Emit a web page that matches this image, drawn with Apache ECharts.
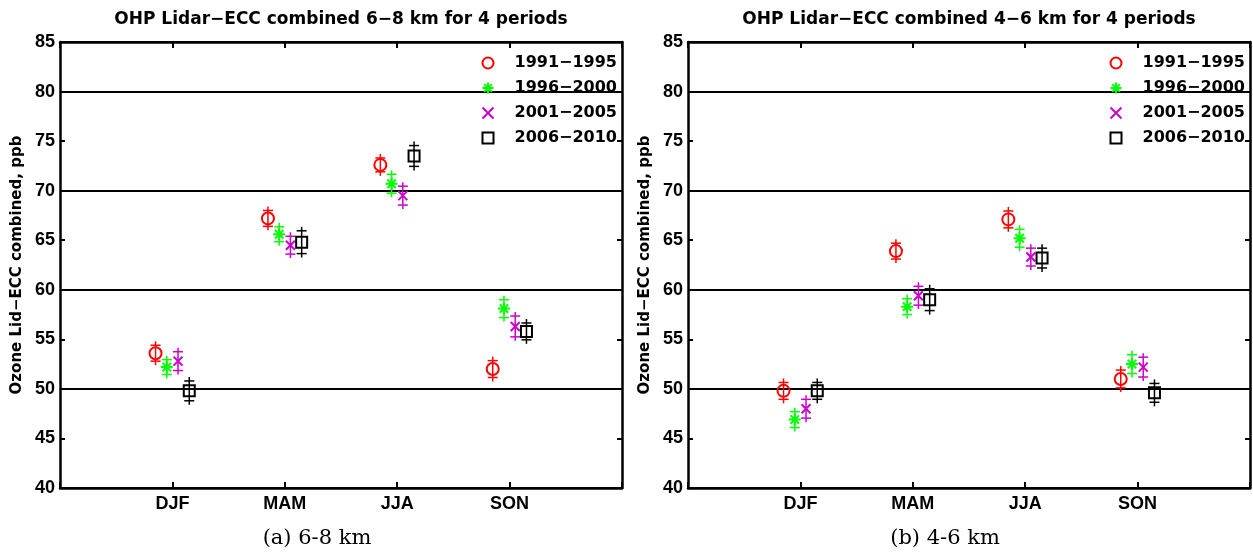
<!DOCTYPE html>
<html>
<head>
    <meta charset="utf-8">
    <script src="https://cdn.jsdelivr.net/npm/echarts@6/dist/echarts.min.js"></script>
</head>
<body style="margin:0;background:#fff">
    <div id="main" style="width:1253px;height:554px"></div>

    <script type="text/javascript">
        // categories and legend names
        var seasons = ['DJF', 'MAM', 'JJA', 'SON'];
        var periods = ['1991\u22121995', '1996\u22122000', '2001\u22122005', '2006\u22122010'];

        // (a) 6-8 km : seasonal means, ppb, and error half-widths
        var a9195 = [53.6, 67.2, 72.6, 52.0];
        var a9195err = [0.8, 0.8, 0.7, 0.85];
        var a9600 = [52.2, 65.6, 70.7, 58.1];
        var a9600err = [0.75, 0.75, 0.95, 0.9];
        var a0105 = [52.8, 64.5, 69.5, 56.3];
        var a0105err = [0.95, 0.9, 0.95, 1.05];
        var a0610 = [49.8, 64.8, 73.5, 55.8];
        var a0610err = [1.0, 1.15, 1.05, 0.85];

        // (b) 4-6 km
        var b9195 = [49.8, 63.9, 67.1, 51.0];
        var b9195err = [0.85, 0.8, 0.85, 0.9];
        var b9600 = [46.9, 58.3, 65.2, 52.5];
        var b9600err = [0.8, 0.8, 0.9, 0.95];
        var b0105 = [48.0, 59.4, 63.3, 52.2];
        var b0105err = [0.95, 0.95, 0.9, 1.0];
        var b0610 = [49.8, 59.0, 63.2, 49.6];
        var b0610err = [0.85, 1.1, 1.0, 0.95];

        var yTicks = [40, 45, 50, 55, 60, 65, 70, 75, 80, 85];

        var font = 'Liberation Sans, Arial, sans-serif';
        var wide = 'DejaVu Sans, sans-serif';
        var colors = ['#ff0000', '#00ff00', '#cc00cc', '#000000'];
        var symbols = [
            'circle',
            'path://M10,0L10,20M0,10L20,10M3,3L17,17M3,17L17,3',
            'path://M0,0L20,20M0,20L20,0',
            'rect'
        ];
        var symSizes = [12, 12, 9, 11];
        var shift = [-0.15, -0.05, 0.05, 0.15];

        var panelA = [[a9195, a9195err], [a9600, a9600err], [a0105, a0105err], [a0610, a0610err]];
        var panelB = [[b9195, b9195err], [b9600, b9600err], [b0105, b0105err], [b0610, b0610err]];

        var myChart = echarts.init(document.getElementById('main'));

        function xAxisDef(grid, pos) {
            return {
                type: 'value', gridIndex: grid, position: pos,
                min: 0, max: 5, interval: 1,
                axisLine: { show: true, onZero: false, lineStyle: { color: '#000', width: 2.5 } },
                axisTick: { show: true, inside: true, length: 6, lineStyle: { color: '#000', width: 2 } },
                axisLabel: {
                    show: pos === 'bottom', margin: 7,
                    color: '#000', fontFamily: font, fontWeight: 'bold', fontSize: 18,
                    formatter: function (v) { return seasons[v - 1] || ''; }
                },
                splitLine: { show: false }
            };
        }

        function yAxisDef(grid, pos, labels) {
            return {
                type: 'value', gridIndex: grid, position: pos,
                min: yTicks[0], max: yTicks[yTicks.length - 1], interval: 5,
                name: labels ? 'Ozone Lid\u2212ECC combined, ppb' : '',
                nameLocation: 'middle', nameGap: 35,
                nameTextStyle: { color: '#000', fontFamily: wide, fontWeight: 'bold', fontSize: 15 },
                axisLine: { show: true, onZero: false, lineStyle: { color: '#000', width: 2.5 } },
                axisTick: { show: true, inside: true, length: 5, lineStyle: { color: '#000', width: 2 } },
                axisLabel: {
                    show: labels, margin: 5,
                    color: '#000', fontFamily: font, fontWeight: 'bold', fontSize: 18
                },
                splitLine: { show: false }
            };
        }

        function gridLines(grid) {
            return {
                type: 'value', gridIndex: grid, position: 'left',
                min: 40, max: 85, interval: 10,
                axisLine: { show: false }, axisTick: { show: false }, axisLabel: { show: false },
                splitLine: { show: true, lineStyle: { color: '#000', width: 2 } }
            };
        }

        function errRender(color) {
            return function (params, api) {
                var x = api.value(0), y = api.value(1), e = api.value(2);
                var top = api.coord([x, y + e]);
                var bot = api.coord([x, y - e]);
                var st = { stroke: color, lineWidth: 1.5, fill: null };
                return {
                    type: 'group',
                    children: [
                        { type: 'line', shape: { x1: top[0], y1: top[1] - 4, x2: bot[0], y2: bot[1] + 4 }, style: st },
                        { type: 'line', shape: { x1: top[0] - 5, y1: top[1], x2: top[0] + 5, y2: top[1] }, style: st },
                        { type: 'line', shape: { x1: bot[0] - 5, y1: bot[1], x2: bot[0] + 5, y2: bot[1] }, style: st }
                    ]
                };
            };
        }

        var series = [];
        [panelA, panelB].forEach(function (panel, g) {
            panel.forEach(function (pair, k) {
                var pts = [], bars = [];
                for (var i = 0; i < seasons.length; i++) {
                    var xv = i + 1 + shift[k];
                    pts.push([xv, pair[0][i]]);
                    bars.push([xv, pair[0][i], pair[1][i]]);
                }
                series.push({
                    type: 'custom', name: periods[k] + ' err',
                    xAxisIndex: g * 2, yAxisIndex: g * 3,
                    renderItem: errRender(colors[k]),
                    encode: { x: 0, y: 1 },
                    data: bars, silent: true, z: 3
                });
                series.push({
                    type: 'scatter', name: periods[k],
                    xAxisIndex: g * 2, yAxisIndex: g * 3,
                    symbol: symbols[k], symbolSize: symSizes[k],
                    itemStyle: { color: 'none', borderColor: colors[k], borderWidth: 2, opacity: 1 },
                    data: pts, z: 4
                });
            });
        });

        function legendDef(left) {
            return {
                left: left, top: 55, orient: 'vertical', padding: 0,
                itemWidth: 11, itemHeight: 11, itemGap: 9, selectedMode: false,
                textStyle: {
                    color: '#000', fontFamily: wide, fontWeight: 'bold', fontSize: 16,
                    lineHeight: 16, padding: [0, 0, 0, 16]
                },
                data: periods.map(function (p, k) {
                    return {
                        name: p, icon: symbols[k],
                        itemStyle: { color: 'none', borderColor: colors[k], borderWidth: 2 }
                    };
                })
            };
        }

        var titleStyle = { color: '#000', fontFamily: wide, fontWeight: 'bold', fontSize: 17 };
        var capStyle = { color: '#000', fontFamily: 'DejaVu Serif, serif', fontWeight: 'normal', fontSize: 21 };

        var option = {
            backgroundColor: '#fff',
            animation: false,
            title: [
                { text: 'OHP Lidar\u2212ECC combined 6\u22128 km for 4 periods', left: 341, top: 11, textAlign: 'center',
                  padding: 0, textStyle: titleStyle },
                { text: 'OHP Lidar\u2212ECC combined 4\u22126 km for 4 periods', left: 969, top: 11, textAlign: 'center',
                  padding: 0, textStyle: titleStyle },
                { text: '(a) 6-8 km', left: 317, top: 528, textAlign: 'center', padding: 0, textStyle: capStyle },
                { text: '(b) 4-6 km', left: 945, top: 528, textAlign: 'center', padding: 0, textStyle: capStyle }
            ],
            legend: [legendDef(480), legendDef(1108)],
            grid: [
                { left: 60, right: 631, top: 42, bottom: 66 },
                { left: 688, right: 3, top: 42, bottom: 66 }
            ],
            xAxis: [xAxisDef(0, 'bottom'), xAxisDef(0, 'top'), xAxisDef(1, 'bottom'), xAxisDef(1, 'top')],
            yAxis: [
                yAxisDef(0, 'left', true), yAxisDef(0, 'right', false), gridLines(0),
                yAxisDef(1, 'left', true), yAxisDef(1, 'right', false), gridLines(1)
            ],
            series: series
        };

        myChart.setOption(option);
    </script>
</body>
</html>
